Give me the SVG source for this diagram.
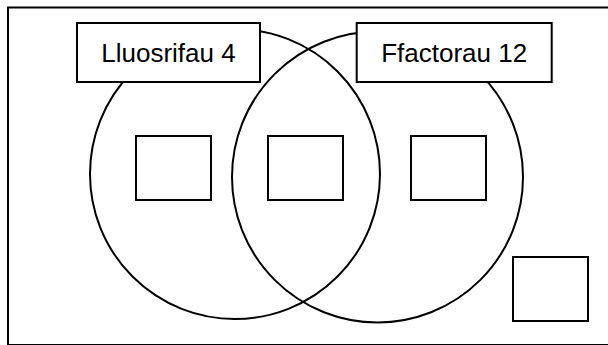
<svg xmlns="http://www.w3.org/2000/svg" width="608" height="345" viewBox="0 0 608 345">
  <style>
    .ln { fill: none; stroke: #000; stroke-width: 2; }
    .bx { fill: #fff; stroke: #000; stroke-width: 2; }
    .lbl { font-family: "Liberation Sans", Arial, sans-serif; font-size: 26px; fill: #000; text-anchor: middle; }
  </style>
  <rect width="608" height="345" fill="#fff"/>
  <g id="frame">
    <rect class="ln" x="8" y="7.5" width="620" height="337.5" stroke-width="2.5"/>
  </g>
  <g id="circle-left">
    <circle class="ln" cx="235" cy="174" r="145"/>
  </g>
  <g id="circle-right">
    <circle class="ln" cx="377.5" cy="177" r="145.5"/>
  </g>
  <g id="label-multiples">
    <rect class="bx" x="77" y="23" width="183" height="59"/>
    <text class="lbl" x="168.5" y="62">Lluosrifau 4</text>
  </g>
  <g id="label-factors">
    <rect class="bx" x="356.7" y="23" width="195" height="59"/>
    <text class="lbl" x="454.2" y="62">Ffactorau 12</text>
  </g>
  <g id="box-left">
    <rect class="bx" x="136" y="136" width="75" height="64"/>
  </g>
  <g id="box-middle">
    <rect class="bx" x="268" y="136" width="75" height="64"/>
  </g>
  <g id="box-right">
    <rect class="bx" x="411" y="136" width="75" height="64"/>
  </g>
  <g id="box-outside">
    <rect class="bx" x="513" y="257" width="75" height="64"/>
  </g>
  <g id="connectors"></g>
</svg>
